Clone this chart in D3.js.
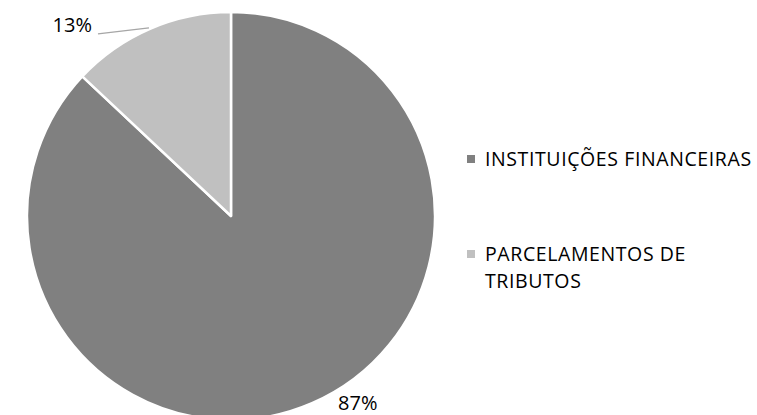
<!DOCTYPE html>
<html>
<head>
<meta charset="utf-8">
<script src="https://cdn.jsdelivr.net/npm/d3@7"></script>
<style>
  body { margin: 0; background: #fff; }
  text { font-family: "Open Sans", sans-serif; fill: #000; }
</style>
</head>
<body>
<div class="chart"></div>
<script>
var categories = ["INSTITUIÇÕES FINANCEIRAS", "PARCELAMENTOS DE TRIBUTOS"];
var values = [87, 13];
var labels = ["87%", "13%"];
var legendLines = [["INSTITUIÇÕES FINANCEIRAS"], ["PARCELAMENTOS DE", "TRIBUTOS"]];
var colors = ["#808080", "#c0c0c0"];

function init() {
    var w = 757;
    var h = 415;
    var cx = 231;
    var cy = 216;
    var radius = 204;

    var svg = d3.select(".chart")
        .append("svg")
        .attr("width", w)
        .attr("height", h);

    var pie = d3.pie().sort(null);
    var arc = d3.arc().innerRadius(0).outerRadius(radius);
    var edge = d3.arc().innerRadius(radius).outerRadius(radius);

    var g = svg.append("g")
        .attr("transform", "translate(" + cx + "," + cy + ")");

    var arcs = g.selectAll("g.arc")
        .data(pie(values))
        .enter()
        .append("g")
        .attr("class", "arc");

    arcs.append("path")
        .attr("d", arc)
        .attr("fill", function(d, i) { return colors[i]; })
        .attr("stroke", "#fff")
        .attr("stroke-width", 2.5)
        .attr("stroke-linejoin", "round");

    // labels
    arcs.each(function(d, i) {
        var p = edge.centroid(d);
        var sel = d3.select(this);
        if (i === 1) {
            // leader line out to the left
            sel.append("path")
                .attr("d", d3.line()([[p[0] - 1, p[1] - 1], [p[0] - 52, p[1] + 5]]))
                .attr("fill", "none")
                .attr("stroke", "#a6a6a6")
                .attr("stroke-width", 1.3);
            sel.append("text")
                .attr("x", p[0] - 58)
                .attr("y", p[1] + 3)
                .attr("text-anchor", "end")
                .style("font-size", "20px")
                .text(labels[i]);
        } else {
            sel.append("text")
                .attr("x", p[0] + 26)
                .attr("y", p[1] + 7)
                .attr("text-anchor", "start")
                .style("font-size", "20px")
                .text(labels[i]);
        }
    });

    // legend
    var legendY = [155, 250];
    var legend = svg.selectAll("g.legend")
        .data(categories)
        .enter()
        .append("g")
        .attr("class", "legend")
        .attr("transform", function(d, i) { return "translate(467," + legendY[i] + ")"; });

    legend.append("rect")
        .attr("x", 0)
        .attr("y", 0)
        .attr("width", 8)
        .attr("height", 8)
        .attr("fill", function(d, i) { return colors[i]; });

    legend.selectAll("text")
        .data(function(d, i) { return legendLines[i]; })
        .enter()
        .append("text")
        .attr("x", 18)
        .attr("y", function(d, j) { return 11 + j * 26.5; })
        .style("font-size", "19.5px")
        .style("letter-spacing", "0.6px")
        .text(function(d) { return d; });
}

init()
</script>
</body>
</html>
